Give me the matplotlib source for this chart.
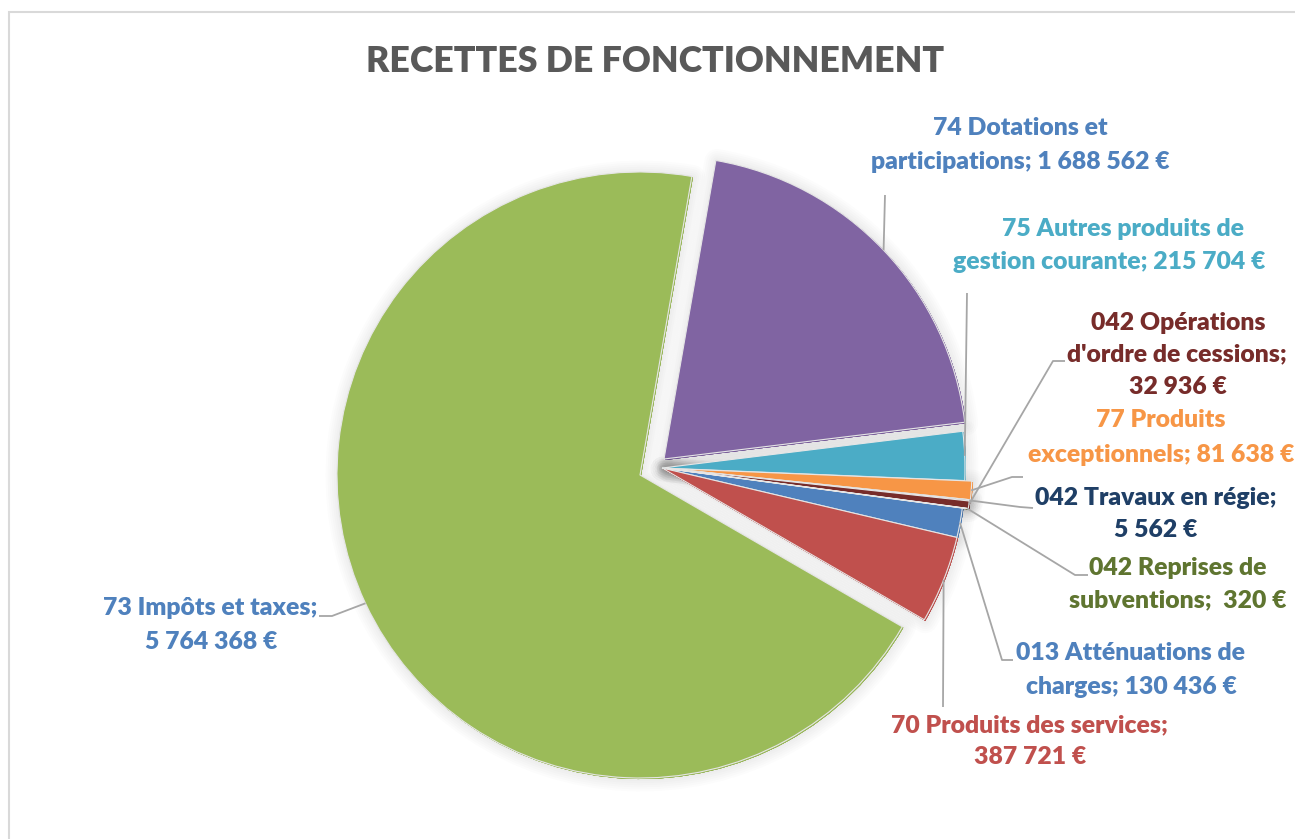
import matplotlib
matplotlib.use("Agg")
import matplotlib.pyplot as plt
from matplotlib.patches import Rectangle
import matplotlib.patheffects as pe
import numpy as np

# ---------------- data ----------------
categories = ["013 Atténuations de charges", "70 Produits des services", "73 Impôts et taxes",
              "74 Dotations et participations", "75 Autres produits de gestion courante",
              "77 Produits exceptionnels", "042 Travaux en régie",
              "042 Opérations d'ordre de cessions", "042 Reprises de subventions"]
values = [130436, 387721, 5764368, 1688562, 215704, 81638, 5562, 32936, 320]
colors = ["#4F81BD", "#C0504D", "#9BBB59", "#8064A2", "#4BACC6", "#F79646",
          "#2C4D75", "#772C2A", "#5F7530"]
label_colors = ["#4F81BD", "#C0504D", "#4F81BD", "#4F81BD", "#4BACC6", "#F79646",
                "#1F3F66", "#772C2A", "#5F7530"]
# wrapped label templates ({v} = formatted value)
label_templates = ["013 Atténuations de\ncharges; {v}",
                   "70 Produits des services;\n{v}",
                   "73 Impôts et taxes;\n{v}",
                   "74 Dotations et\nparticipations; {v}",
                   "75 Autres produits de\ngestion courante; {v}",
                   "77 Produits\nexceptionnels; {v}",
                   "042 Travaux en régie;\n{v}",
                   "042 Opérations\nd'ordre de cessions;\n{v}",
                   "042 Reprises de\nsubventions;  {v}"]
title = "RECETTES DE FONCTIONNEMENT"

# ---------------- layout (pixels, y measured from top) ----------------
W, H = 1295, 839
CX, CY, R = 662, 468, 303
START = -7.6
# wedge offsets (dx, dy) in pixels (dy positive = down)
offsets = [(0, 0), (0, 0), (-22, 7), (2, -9), (0, 0), (7, 0.5), (6, 0.5), (6, 0.5), (5, 0.5)]
# per-line label centres
line_pos = [[(1130, 653), (1131, 687)],
            [(1029, 725), (1030, 757)],
            [(210, 608), (211, 642)],
            [(1020, 128), (1020, 162)],
            [(1123, 229), (1109, 262)],
            [(1161, 420), (1161, 455)],
            [(1156, 498), (1156, 530)],
            [(1178, 323), (1177, 354), (1178, 387)],
            [(1178, 568), (1178, 600)]]
# leader elbow points (after the anchor on the slice edge)
leaders = [[(1002, 660), (1013, 660)],
           [(943, 707)],
           [(332, 616), (319, 616)],
           [(885, 195)],
           [(967, 293)],
           [(1012, 477), (1023, 477)],
           [(1020, 507), (1033, 508)],
           [(1053, 361), (1065, 361)],
           [(1075, 575), (1088, 575)]]

FONT = "Lato"
WEIGHT = 800
LEADER_C = "#A6A6A6"


def Y(y):
    return H - y


fig = plt.figure(figsize=(W / 100, H / 100), dpi=100)
ax = fig.add_axes([0, 0, 1, 1])

# chart frame
fig.patches.append(Rectangle((9 / W, -0.1), 2, (H - 12) / H + 0.1, transform=fig.transFigure,
                             fill=False, edgecolor="#D9D9D9", linewidth=1.5, zorder=0))

# soft shadow layer
shadow_fx = [pe.Stroke(linewidth=lw, foreground=(0, 0, 0, 0.013), joinstyle="round")
             for lw in (18, 15, 12, 9, 6, 3)]
sh_wedges, _ = ax.pie(values, colors=colors, startangle=START, counterclock=False,
                      radius=R, center=(CX, Y(CY)), frame=True,
                      wedgeprops=dict(linewidth=0, edgecolor="none"))
for w, (dx, dy) in zip(sh_wedges, offsets):
    w.set_center((CX + dx + 1, Y(CY) - dy - 1))
    w.set_path_effects(shadow_fx)
    w.set_zorder(1)

wedges, _ = ax.pie(values, colors=colors, startangle=START, counterclock=False,
                   radius=R, center=(CX, Y(CY)), frame=True,
                   wedgeprops=dict(linewidth=0.8, edgecolor="#E6E6E6"))
for w, (dx, dy) in zip(wedges, offsets):
    w.set_center((CX + dx, Y(CY) - dy))
    w.set_zorder(2)

# leader lines
for w, (dx, dy), pts in zip(wedges, offsets, leaders):
    mid = np.deg2rad((w.theta1 + w.theta2) / 2)
    ax0 = CX + dx + R * np.cos(mid)
    ay0 = Y(CY) - dy + R * np.sin(mid)
    xs = [ax0] + [p[0] for p in pts]
    ys = [ay0] + [Y(p[1]) for p in pts]
    ax.plot(xs, ys, color=LEADER_C, lw=1.3, zorder=3, solid_capstyle="butt")


def fmt(v):
    return f"{v:,}".replace(",", " ") + " €"


LABEL_FS = 15.5
texts = []
for tpl, v, col, poss in zip(label_templates, values, label_colors, line_pos):
    lines = tpl.format(v=fmt(v)).split("\n")
    for ln, (x, y) in zip(lines, poss):
        t = ax.text(x, Y(y), ln, ha="center", va="center", color=col,
                    fontsize=LABEL_FS, fontweight=WEIGHT, family=FONT, zorder=4)
        texts.append((ln, t))

tt = ax.text(655, Y(61), title, ha="center", va="center", color="#595959",
             fontsize=25, fontweight=WEIGHT, family=FONT, zorder=4)

ax.set_xlim(0, W)
ax.set_ylim(0, H)
ax.set_aspect("equal")
ax.axis("off")

# fit font sizes to the reference widths
fig.canvas.draw()
rend = fig.canvas.get_renderer()
wt = tt.get_window_extent(rend).width
tt.set_fontsize(25 * 580 / wt)
scale = 1.0
for ln, t in texts:
    if ln == "d'ordre de cessions;":
        wl = t.get_window_extent(rend).width
        scale = 219 / wl
for ln, t in texts:
    t.set_fontsize(LABEL_FS * scale)

fig.savefig("out.png", dpi=100)
